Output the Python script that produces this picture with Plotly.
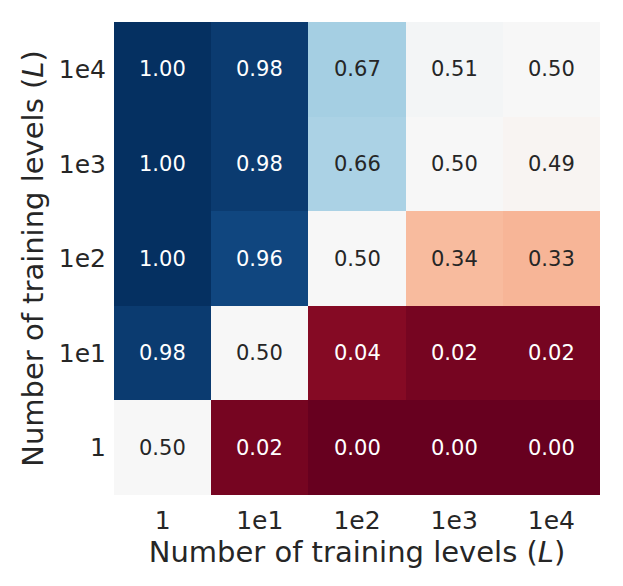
import plotly.graph_objects as go

x_labels = ["1", "1e1", "1e2", "1e3", "1e4"]
y_labels = ["1", "1e1", "1e2", "1e3", "1e4"]  # bottom to top
# rows bottom (1) to top (1e4)
row_1 = [0.50, 0.02, 0.00, 0.00, 0.00]
row_1e1 = [0.98, 0.50, 0.04, 0.02, 0.02]
row_1e2 = [1.00, 0.96, 0.50, 0.34, 0.33]
row_1e3 = [1.00, 0.98, 0.66, 0.50, 0.49]
row_1e4 = [1.00, 0.98, 0.67, 0.51, 0.50]
z = [row_1, row_1e1, row_1e2, row_1e3, row_1e4]

rdbu_hex = ["#67001f", "#b2182b", "#d6604d", "#f4a582", "#fddbc7", "#f7f7f7",
            "#d1e5f0", "#92c5de", "#4393c3", "#2166ac", "#053061"]
colorscale = [[i / 10, c] for i, c in enumerate(rdbu_hex)]


def hex2rgb(h):
    h = h.lstrip("#")
    return [int(h[i:i + 2], 16) for i in (0, 2, 4)]


def cmap(v):
    v = min(max(v, 0), 1)
    i = min(int(v * 10), 9)
    f = v * 10 - i
    a, b = hex2rgb(rdbu_hex[i]), hex2rgb(rdbu_hex[i + 1])
    return [a[k] + (b[k] - a[k]) * f for k in range(3)]


def lum(rgb):
    out = []
    for c in rgb:
        c = c / 255
        out.append(c / 12.92 if c <= 0.03928 else ((c + 0.055) / 1.055) ** 2.4)
    return 0.2126 * out[0] + 0.7152 * out[1] + 0.0722 * out[2]


xi = list(range(len(x_labels)))
yi = list(range(len(y_labels)))

fig = go.Figure(go.Heatmap(
    z=z, x=xi, y=yi, colorscale=colorscale, zmin=0, zmax=1,
    showscale=False, hoverinfo="skip",
))

annotations = []
for r in yi:
    for c in xi:
        v = z[r][c]
        col = "white" if lum(cmap(v)) < 0.408 else "#262626"
        annotations.append(dict(x=c, y=r, text=f"{v:.2f}", showarrow=False,
                                font=dict(size=21, color=col,
                                          family="DejaVu Sans")))

fig.update_layout(
    width=623, height=586,
    margin=dict(l=106, r=31, t=14, b=99),
    paper_bgcolor="white", plot_bgcolor="white",
    font=dict(family="DejaVu Sans", color="#262626"),
    annotations=annotations,
    xaxis=dict(tickvals=xi, ticktext=x_labels, range=[-0.5, 4.5],
               title=dict(text="Number of training levels (<i>L</i>)",
                          font=dict(size=29), standoff=5),
               tickfont=dict(size=25), ticks="", showgrid=False,
               zeroline=False, ticklabelstandoff=8),
    yaxis=dict(tickvals=yi, ticktext=y_labels, range=[-0.5, 4.5],
               title=dict(text="Number of training levels (<i>L</i>)",
                          font=dict(size=29), standoff=6),
               tickfont=dict(size=25), ticks="", showgrid=False,
               zeroline=False, ticklabelstandoff=7),
)

fig.write_html("out.html")
